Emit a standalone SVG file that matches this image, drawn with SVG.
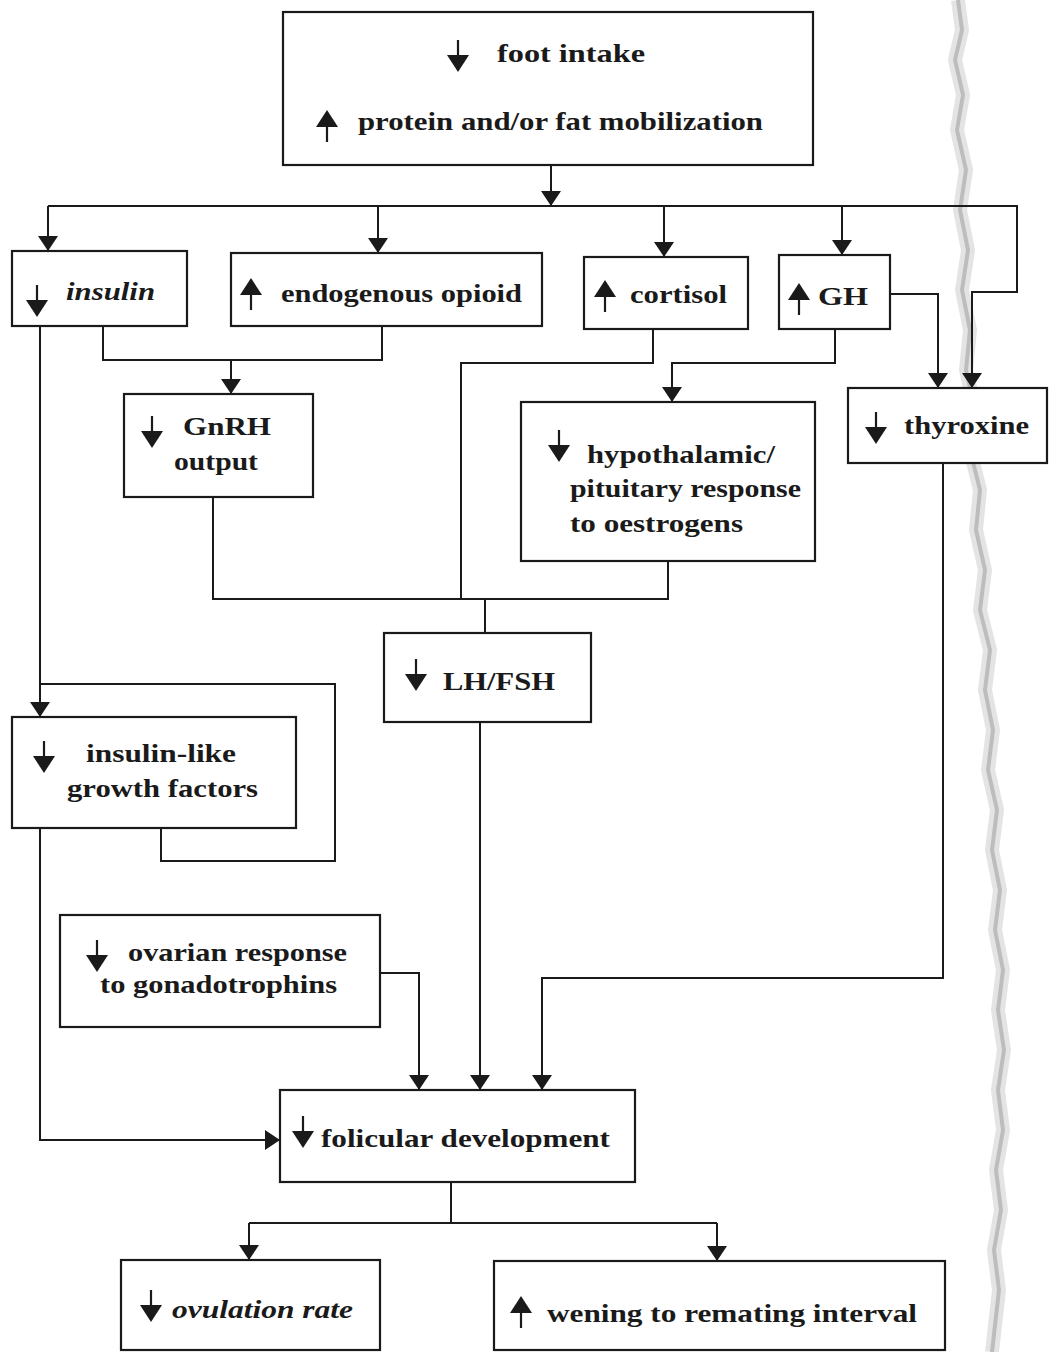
<svg xmlns="http://www.w3.org/2000/svg" width="1052" height="1352" viewBox="0 0 1052 1352">
<style>
.box{fill:#fff;stroke:#1a1a1a;stroke-width:2.2}
.con{fill:none;stroke:#1a1a1a;stroke-width:2}
.t{font-family:"Liberation Serif","DejaVu Serif",serif;font-size:26px;font-weight:bold;fill:#1a1a1a}
.i{font-style:italic}
.tear{fill:none;stroke-linejoin:round}
</style>
<defs>
<marker id="ah" viewBox="0 0 15 20" refX="15" refY="10" markerWidth="15" markerHeight="20" markerUnits="userSpaceOnUse" orient="auto">
<path d="M0,0 L15,10 L0,20 Z" fill="#1a1a1a"/>
</marker>
<g id="dn"><path d="M0,0 V18" stroke="#1a1a1a" stroke-width="2.2"/><path d="M-11,15 H11 L0,32 Z" fill="#1a1a1a"/></g>
<g id="up"><path d="M0,14 V32" stroke="#1a1a1a" stroke-width="2.2"/><path d="M-11,17 H11 L0,0 Z" fill="#1a1a1a"/></g>
<path id="tearline" d="M958,0 L962,30 L955,60 L963,95 L957,130 L966,170 L960,210 L968,250 L962,290 L970,330 L966,370 L975,410 L970,450 L980,490 L976,530 L985,570 L980,610 L990,650 L985,690 L993,730 L988,770 L997,810 L992,850 L1000,890 L995,930 L1003,970 L998,1010 L1004,1050 L998,1090 L1003,1130 L996,1170 L1001,1210 L994,1250 L999,1290 L992,1352"/>
</defs>
<rect width="1052" height="1352" fill="#fff"/>
<g id="torn-edge">
<use href="#tearline" class="tear" stroke="#e4e4e4" stroke-width="14"/>
<use href="#tearline" class="tear" stroke="#bdbdbd" stroke-width="4"/>
</g>
<g id="connectors">
<path class="con" d="M551,165 V206" marker-end="url(#ah)"/>
<path class="con" d="M48,206 H1017 V292 H972 V388" marker-end="url(#ah)"/>
<path class="con" d="M48,206 V251" marker-end="url(#ah)"/>
<path class="con" d="M378,206 V253" marker-end="url(#ah)"/>
<path class="con" d="M664,206 V257" marker-end="url(#ah)"/>
<path class="con" d="M842,206 V255" marker-end="url(#ah)"/>
<path class="con" d="M890,294 H938 V388" marker-end="url(#ah)"/>
<path class="con" d="M103,326 V360 H382 V326"/>
<path class="con" d="M231,360 V394" marker-end="url(#ah)"/>
<path class="con" d="M653,329 V363 H461 V599"/>
<path class="con" d="M835,329 V363 H672 V402" marker-end="url(#ah)"/>
<path class="con" d="M213,497 V599 H668 V561"/>
<path class="con" d="M485,599 V633"/>
<path class="con" d="M40,326 V717" marker-end="url(#ah)"/>
<path class="con" d="M40,684 H335 V861 H161 V828"/>
<path class="con" d="M40,828 V1140 H280" marker-end="url(#ah)"/>
<path class="con" d="M480,722 V1090" marker-end="url(#ah)"/>
<path class="con" d="M943,463 V978 H542 V1090" marker-end="url(#ah)"/>
<path class="con" d="M380,973 H419 V1090" marker-end="url(#ah)"/>
<path class="con" d="M451,1182 V1223"/>
<path class="con" d="M249,1223 H717"/>
<path class="con" d="M249,1223 V1260" marker-end="url(#ah)"/>
<path class="con" d="M717,1223 V1261" marker-end="url(#ah)"/>
</g>
<g id="n-top">
<rect class="box" x="283" y="12" width="530" height="153"/>
<use href="#dn" x="458" y="40"/>
<text class="t" x="497" y="62" textLength="148" lengthAdjust="spacingAndGlyphs">foot intake</text>
<use href="#up" x="327" y="110"/>
<text class="t" x="358" y="130" textLength="405" lengthAdjust="spacingAndGlyphs">protein and/or fat mobilization</text>
</g>
<g id="n-insulin">
<rect class="box" x="12" y="251" width="175" height="75"/>
<use href="#dn" x="37" y="285"/>
<text class="t i" x="66" y="300" textLength="89" lengthAdjust="spacingAndGlyphs">insulin</text>
</g>
<g id="n-opioid">
<rect class="box" x="231" y="253" width="311" height="73"/>
<use href="#up" x="251" y="278"/>
<text class="t" x="281" y="302" textLength="241" lengthAdjust="spacingAndGlyphs">endogenous opioid</text>
</g>
<g id="n-cortisol">
<rect class="box" x="584" y="257" width="164" height="72"/>
<use href="#up" x="605" y="280"/>
<text class="t" x="630" y="303" textLength="97" lengthAdjust="spacingAndGlyphs">cortisol</text>
</g>
<g id="n-gh">
<rect class="box" x="779" y="255" width="111" height="74"/>
<use href="#up" x="799" y="283"/>
<text class="t" x="818" y="305" textLength="50" lengthAdjust="spacingAndGlyphs">GH</text>
</g>
<g id="n-gnrh">
<rect class="box" x="124" y="394" width="189" height="103"/>
<use href="#dn" x="152" y="416"/>
<text class="t" x="183" y="435" textLength="88" lengthAdjust="spacingAndGlyphs">GnRH</text>
<text class="t" x="174" y="470" textLength="84" lengthAdjust="spacingAndGlyphs">output</text>
</g>
<g id="n-hyp">
<rect class="box" x="521" y="402" width="294" height="159"/>
<use href="#dn" x="559" y="430"/>
<text class="t" x="587" y="463" textLength="188" lengthAdjust="spacingAndGlyphs">hypothalamic/</text>
<text class="t" x="570" y="497" textLength="231" lengthAdjust="spacingAndGlyphs">pituitary response</text>
<text class="t" x="570" y="532" textLength="173" lengthAdjust="spacingAndGlyphs">to oestrogens</text>
</g>
<g id="n-thyroxine">
<rect class="box" x="848" y="388" width="199" height="75"/>
<use href="#dn" x="876" y="412"/>
<text class="t" x="904" y="434" textLength="125" lengthAdjust="spacingAndGlyphs">thyroxine</text>
</g>
<g id="n-lhfsh">
<rect class="box" x="384" y="633" width="207" height="89"/>
<use href="#dn" x="416" y="659"/>
<text class="t" x="443" y="690" textLength="112" lengthAdjust="spacingAndGlyphs">LH/FSH</text>
</g>
<g id="n-igf">
<rect class="box" x="12" y="717" width="284" height="111"/>
<use href="#dn" x="44" y="741"/>
<text class="t" x="86" y="762" textLength="150" lengthAdjust="spacingAndGlyphs">insulin-like</text>
<text class="t" x="67" y="797" textLength="191" lengthAdjust="spacingAndGlyphs">growth factors</text>
</g>
<g id="n-ovarian">
<rect class="box" x="60" y="915" width="320" height="112"/>
<use href="#dn" x="97" y="940"/>
<text class="t" x="128" y="961" textLength="219" lengthAdjust="spacingAndGlyphs">ovarian response</text>
<text class="t" x="100" y="993" textLength="237" lengthAdjust="spacingAndGlyphs">to gonadotrophins</text>
</g>
<g id="n-follicular">
<rect class="box" x="280" y="1090" width="355" height="92"/>
<use href="#dn" x="303" y="1116"/>
<text class="t" x="321" y="1147" textLength="289" lengthAdjust="spacingAndGlyphs">folicular development</text>
</g>
<g id="n-ovulation">
<rect class="box" x="121" y="1260" width="259" height="90"/>
<use href="#dn" x="151" y="1290"/>
<text class="t i" x="172" y="1318" textLength="181" lengthAdjust="spacingAndGlyphs">ovulation rate</text>
</g>
<g id="n-wening">
<rect class="box" x="494" y="1261" width="451" height="89"/>
<use href="#up" x="521" y="1296"/>
<text class="t" x="547" y="1322" textLength="370" lengthAdjust="spacingAndGlyphs">wening to remating interval</text>
</g>
</svg>
